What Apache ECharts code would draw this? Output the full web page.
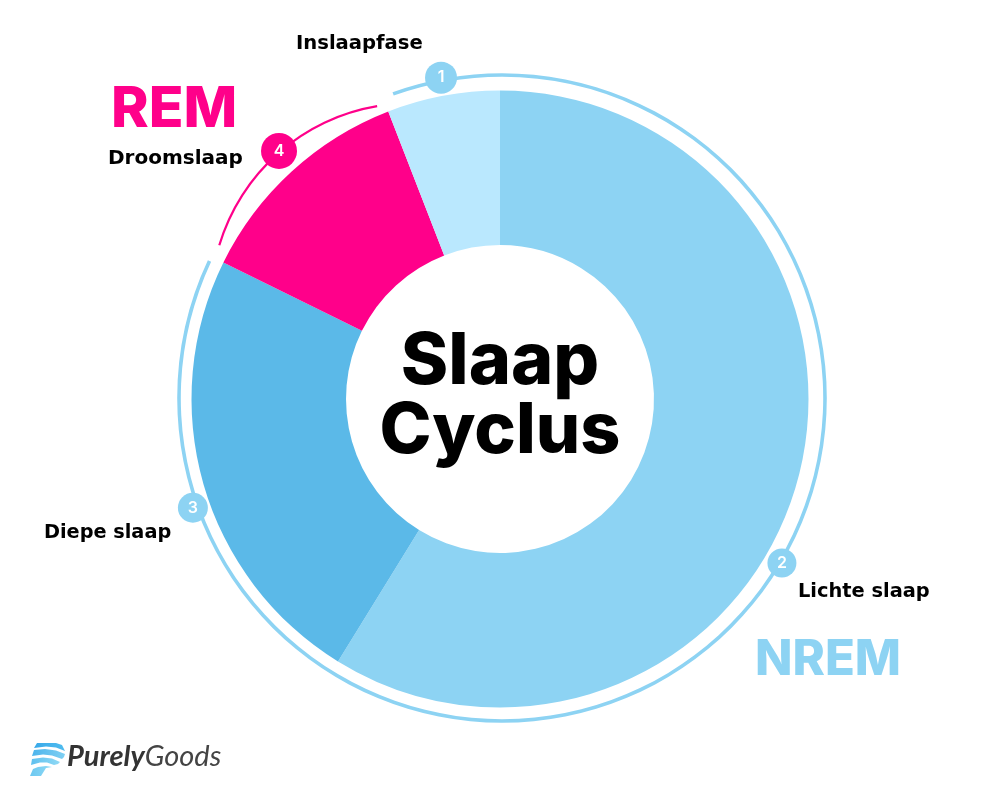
<!DOCTYPE html>
<html>
<head>
<meta charset="utf-8">
<style>html,body{margin:0;padding:0;background:#fff}#main{width:1000px;height:800px}</style>
<script src="https://cdn.jsdelivr.net/npm/echarts@6/dist/echarts.min.js"></script>
</head>
<body>
<div id="main"></div>
<script>
// slaapfasen, aandeel in %
var phaseNames = ["Lichte slaap", "Diepe slaap", "Droomslaap", "Inslaapfase"];
var phaseValues = [58.8, 23.5, 11.8, 5.9];
var phaseColors = ["#8DD3F3", "#5BB9E8", "#FF008A", "#BAE8FE"];

// bogen rond de ring, in graden met de klok mee vanaf boven
var nremArc = [295.1, 45.2, 19.7];
var remArc = [286.7, 63.8, 9.5];

// genummerde bolletjes: straal, hoek
var badgeLabels = ["1", "2", "3", "4"];
var badgeRadius = [326.7, 326.2, 325.8, 332.2];
var badgeAngle = [349.6, 120.2, 250.5, 318.3];
var badgeSize = [32, 29, 30, 36];
var badgeColors = ["#8DD3F3", "#8DD3F3", "#8DD3F3", "#FF008A"];

var BIG = "Inter";
var SMALL = "DejaVu Sans";
var BLUE = "#8DD3F3";
var PINK = "#FF008A";

function arcSeries(values, colorOn, center, radius) {
  // elk tweede stuk is een open gat in de boog
  return {
    type: "pie",
    silent: true,
    center: center,
    radius: radius,
    startAngle: 90,
    clockwise: true,
    label: { show: false },
    labelLine: { show: false },
    data: values.map(function (v, i) {
      return { value: v, itemStyle: { color: i % 2 === 0 ? colorOn[0] : colorOn[1] } };
    }),
  };
}

function bigText(str, x, y, size, color, align) {
  return {
    type: "text",
    silent: true,
    style: {
      text: str,
      x: x,
      y: y,
      fill: color,
      font: "800 " + size + "px " + BIG + ", sans-serif",
      textAlign: align || "left",
      textVerticalAlign: "bottom",
    },
  };
}

function smallText(str, x, y, size) {
  return {
    type: "text",
    silent: true,
    style: {
      text: str,
      x: x,
      y: y,
      fill: "#000",
      font: "700 " + size + "px " + SMALL + ", sans-serif",
      textVerticalAlign: "bottom",
    },
  };
}

function logoBand(points, c1, c2) {
  return {
    type: "polygon",
    silent: true,
    shape: { points: points },
    style: {
      fill: {
        type: "linear", x: 0, y: 0, x2: 1, y2: 0,
        colorStops: [{ offset: 0, color: c1 }, { offset: 1, color: c2 }],
      },
    },
  };
}

var myChart = echarts.init(document.getElementById("main"));
myChart.setOption({
  animation: false,
  backgroundColor: "#fff",
  polar: { center: [500, 399], radius: 340 },
  radiusAxis: { min: 0, max: 340, show: false },
  angleAxis: { type: "value", min: 0, max: 360, startAngle: 90, clockwise: true, show: false },
  series: [
    {
      type: "pie",
      silent: true,
      center: [500, 399],
      radius: [154, 308.5],
      startAngle: 90,
      clockwise: true,
      label: { show: false },
      labelLine: { show: false },
      data: phaseNames.map(function (n, i) {
        return { name: n, value: phaseValues[i], itemStyle: { color: phaseColors[i] } };
      }),
    },
    arcSeries(nremArc, [BLUE, "transparent"], [502, 398], [321.2, 324.8]),
    arcSeries(remArc, ["transparent", PINK], [410, 302.5], [198, 200.2]),
    {
      type: "scatter",
      coordinateSystem: "polar",
      silent: true,
      z: 5,
      data: badgeLabels.map(function (b, i) {
        return {
          value: [badgeRadius[i], badgeAngle[i]],
          symbolSize: badgeSize[i],
          itemStyle: { color: badgeColors[i], opacity: 1 },
          label: {
            show: true,
            position: "inside",
            formatter: b,
            color: "#fff",
            fontSize: 16,
            fontWeight: 600,
            fontFamily: "Inter",
          },
        };
      }),
    },
  ],
  graphic: [
    bigText("Slaap", 500, 398, 72, "#000", "center"),
    bigText("Cyclus", 500, 467, 70, "#000", "center"),
    bigText("REM", 111, 138, 57, PINK),
    bigText("NREM", 755, 685, 49, BLUE),
    smallText("Inslaapfase", 296, 54, 19.6),
    smallText("Droomslaap", 108, 169, 20),
    smallText("Diepe slaap", 44, 542, 19.3),
    smallText("Lichte slaap", 798, 601, 19.4),
    logoBand([[37,743],[56,743],[62,745],[65,751],[56,747.5],[46,746.5],[34,748]], "#39A9E9", "#4FBCEF"),
    logoBand([[34,750],[45,749],[56,750.5],[65,754],[64,757],[62,759],[52,755.5],[43,754.5],[32,756]], "#4CB4EC", "#7FD0F3"),
    logoBand([[32,759],[43,757.5],[52,758.5],[60,762],[58,764],[54,765],[47,762.5],[40,762.5],[31,765]], "#5FC0EF", "#8FD9F5"),
    logoBand([[33,769],[38,767],[46,766],[52,767],[46,768],[41,776],[30,776]], "#6CC8F1", "#8FD9F5"),
    {
      type: "text",
      silent: true,
      style: {
        x: 67,
        y: 771,
        textVerticalAlign: "bottom",
        rich: {
          a: { font: "italic 700 29px Lato, sans-serif", fill: "#333" },
          b: { font: "italic 400 29px Lato, sans-serif", fill: "#444" },
        },
        text: "{a|Purely}{b|Goods}",
      },
    },
  ],
});
</script>
</body>
</html>
